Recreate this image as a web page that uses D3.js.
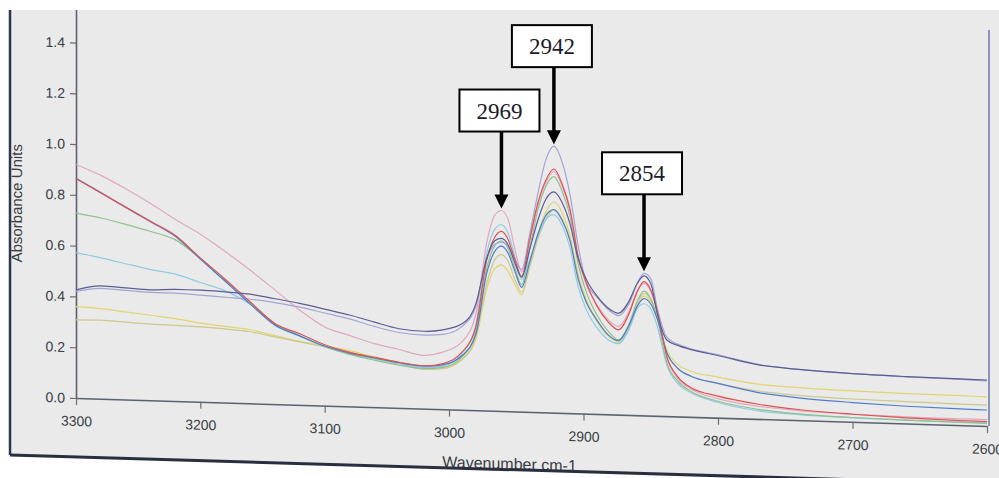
<!DOCTYPE html>
<html>
<head>
<meta charset="utf-8">
<script src="https://cdn.jsdelivr.net/npm/d3@7"></script>
<style>
body { margin: 0; background: #fff; }
svg { display: block; }
</style>
</head>
<body>
<div id="chart-area"></div>
<script>

let width = 999,
height = 478;

// wavenumber grid (cm-1), shared by every spectrum
let wavenumbers = [3300, 3280, 3260, 3240, 3220, 3200, 3180, 3160, 3140, 3120,
	3100, 3080, 3060, 3040, 3020, 3005, 2990, 2980, 2972, 2966,
	2961, 2956, 2951, 2946, 2940, 2934, 2928, 2922, 2916, 2910,
	2904, 2898, 2890, 2882, 2874, 2866, 2860, 2855, 2850, 2845,
	2838, 2830, 2820, 2800, 2770, 2740, 2700, 2660, 2620, 2600];

// absorbance of each spectrum
let specLavender = [0.420, 0.435, 0.430, 0.425, 0.425, 0.420, 0.415, 0.410, 0.400, 0.385,
	0.365, 0.345, 0.318, 0.297, 0.290, 0.295, 0.330, 0.410, 0.595, 0.655,
	0.665, 0.650, 0.600, 0.560, 0.700, 0.860, 0.995, 1.050, 0.990, 0.860,
	0.660, 0.520, 0.460, 0.415, 0.390, 0.440, 0.520, 0.560, 0.540, 0.420,
	0.310, 0.285, 0.268, 0.248, 0.215, 0.200, 0.190, 0.184, 0.180, 0.178];
let specPink = [0.920, 0.880, 0.830, 0.775, 0.715, 0.660, 0.595, 0.525, 0.450, 0.373,
	0.310, 0.280, 0.250, 0.230, 0.210, 0.225, 0.270, 0.380, 0.660, 0.770,
	0.790, 0.755, 0.640, 0.550, 0.680, 0.815, 0.905, 0.950, 0.895, 0.795,
	0.615, 0.510, 0.430, 0.375, 0.347, 0.410, 0.490, 0.520, 0.490, 0.405,
	0.230, 0.150, 0.110, 0.075, 0.050, 0.038, 0.030, 0.026, 0.025, 0.025];
let specRed = [0.864, 0.811, 0.758, 0.705, 0.652, 0.567, 0.486, 0.400, 0.318, 0.280,
	0.240, 0.213, 0.196, 0.180, 0.169, 0.180, 0.229, 0.329, 0.592, 0.684,
	0.708, 0.676, 0.598, 0.533, 0.678, 0.823, 0.915, 0.960, 0.903, 0.803,
	0.619, 0.516, 0.425, 0.366, 0.334, 0.401, 0.487, 0.527, 0.495, 0.410,
	0.234, 0.157, 0.115, 0.085, 0.058, 0.042, 0.030, 0.022, 0.018, 0.017];
let specGreen = [0.728, 0.712, 0.690, 0.665, 0.635, 0.565, 0.483, 0.398, 0.315, 0.272,
	0.232, 0.205, 0.185, 0.168, 0.158, 0.165, 0.210, 0.310, 0.560, 0.650,
	0.670, 0.640, 0.565, 0.500, 0.645, 0.795, 0.890, 0.930, 0.875, 0.775,
	0.590, 0.480, 0.390, 0.330, 0.295, 0.360, 0.450, 0.490, 0.460, 0.380,
	0.210, 0.140, 0.100, 0.065, 0.038, 0.025, 0.017, 0.013, 0.011, 0.010];
let specSlate = [0.426, 0.445, 0.440, 0.435, 0.440, 0.440, 0.436, 0.430, 0.415, 0.400,
	0.380, 0.360, 0.335, 0.312, 0.305, 0.313, 0.340, 0.420, 0.600, 0.670,
	0.680, 0.655, 0.585, 0.530, 0.640, 0.755, 0.840, 0.870, 0.830, 0.745,
	0.610, 0.530, 0.465, 0.420, 0.400, 0.450, 0.520, 0.550, 0.520, 0.400,
	0.300, 0.280, 0.265, 0.245, 0.213, 0.200, 0.190, 0.185, 0.182, 0.181];
let specYellow = [0.360, 0.355, 0.345, 0.335, 0.325, 0.310, 0.300, 0.290, 0.270, 0.250,
	0.235, 0.220, 0.198, 0.180, 0.158, 0.165, 0.200, 0.280, 0.480, 0.560,
	0.576, 0.550, 0.500, 0.460, 0.580, 0.700, 0.790, 0.830, 0.790, 0.700,
	0.550, 0.450, 0.370, 0.315, 0.285, 0.340, 0.430, 0.470, 0.450, 0.380,
	0.260, 0.205, 0.180, 0.160, 0.137, 0.128, 0.122, 0.118, 0.116, 0.115];
let specOlive = [0.308, 0.310, 0.305, 0.300, 0.298, 0.295, 0.290, 0.282, 0.265, 0.248,
	0.232, 0.215, 0.195, 0.175, 0.155, 0.160, 0.200, 0.290, 0.500, 0.595,
	0.616, 0.590, 0.520, 0.470, 0.570, 0.680, 0.760, 0.800, 0.765, 0.680,
	0.540, 0.440, 0.365, 0.310, 0.290, 0.345, 0.440, 0.480, 0.460, 0.390,
	0.250, 0.190, 0.160, 0.135, 0.110, 0.098, 0.090, 0.086, 0.083, 0.082];
let specBlue = [0.866, 0.812, 0.757, 0.703, 0.648, 0.562, 0.478, 0.392, 0.312, 0.272,
	0.235, 0.210, 0.194, 0.178, 0.168, 0.175, 0.215, 0.300, 0.540, 0.628,
	0.650, 0.622, 0.552, 0.490, 0.590, 0.700, 0.775, 0.800, 0.760, 0.680,
	0.530, 0.440, 0.370, 0.315, 0.292, 0.355, 0.430, 0.460, 0.440, 0.380,
	0.250, 0.190, 0.160, 0.135, 0.104, 0.088, 0.076, 0.068, 0.064, 0.063];
let specCyan = [0.573, 0.555, 0.535, 0.515, 0.500, 0.470, 0.440, 0.390, 0.310, 0.270,
	0.232, 0.207, 0.190, 0.173, 0.162, 0.170, 0.225, 0.340, 0.620, 0.715,
	0.734, 0.700, 0.610, 0.520, 0.600, 0.690, 0.760, 0.780, 0.740, 0.650,
	0.500, 0.410, 0.340, 0.295, 0.280, 0.340, 0.420, 0.440, 0.420, 0.350,
	0.200, 0.130, 0.095, 0.060, 0.032, 0.022, 0.016, 0.013, 0.012, 0.012];

// drawing order: light ones first, dark ones on top
let spectra = [specYellow, specOlive, specCyan, specGreen, specPink, specLavender, specBlue, specRed, specSlate];
let spectraColors = ["#e3d46e", "#cdc88c", "#8fcbe2", "#8fc08f", "#e0a7c2", "#a2a4d6", "#4f7dce", "#de5352", "#5d5c93"];

// peak call-outs
let peakLabels = ["2969", "2942", "2854"];
let peakPositions = [2961, 2922, 2855];

let xTicks = [3300, 3200, 3100, 3000, 2900, 2800, 2700, 2600];
let yTicks = [0, 0.2, 0.4, 0.6, 0.8, 1.0, 1.2, 1.4];

// the photo is tilted a little: the x axis drops ~28px over its length
let tilt = 0.0307;
let tiltDeg = Math.atan(tilt) * 180 / Math.PI;
let originX = 76, originY = 398;

let svg = d3.select("#chart-area").append("svg")
	.attr("width", width)
	.attr("height", height);

// photo area (grey screen) with white margins
let photo = [[10, 10], [999, 10], [999, 484], [10, 455]];
svg.append("rect").attr("width", width).attr("height", height).attr("fill", "#fff");
svg.append("polygon")
	.attr("points", photo.map(p => p.join(",")).join(" "))
	.attr("fill", "#e9eae9");

svg.append("clipPath").attr("id", "photo-clip")
	.append("polygon")
	.attr("points", photo.map(p => p.join(",")).join(" "));

let clipped = svg.append("g").attr("clip-path", "url(#photo-clip)");
let g = clipped.append("g")
	.attr("transform", "translate(" + originX + "," + originY + ") skewY(" + tiltDeg + ")");

// scales (x is a little stretched toward the right, as in the photo)
let x = d3.scaleLinear()
	.domain([3300, 3000, 2600])
	.range([0, 373, 911]);
let y = d3.scaleLinear()
	.domain([0, 1.56])
	.range([0, -396]);

// axes
let xAxis = d3.axisBottom(x).tickValues(xTicks).tickSize(7).tickSizeOuter(0).tickPadding(11)
	.tickFormat(d3.format("d"));
let yAxis = d3.axisLeft(y).tickValues(yTicks).tickSize(6).tickSizeOuter(0).tickPadding(5)
	.tickFormat(d3.format(".1f"));

let gx = g.append("g").call(xAxis);
let gy = g.append("g").call(yAxis);
[gx, gy].forEach(a => {
	a.select(".domain").attr("stroke", "#5c6170").attr("stroke-width", 1.6);
	a.selectAll(".tick line").attr("stroke", "#6a6e78").attr("stroke-width", 1.2);
	a.selectAll(".tick text")
		.attr("fill", "#3a3d45")
		.style("font-family", "Liberation Sans, Arial, sans-serif")
		.style("font-size", "14px");
});

// right frame line
g.append("line")
	.attr("x1", x(2600) + 2).attr("x2", x(2600) + 2)
	.attr("y1", 0).attr("y2", y(1.56))
	.attr("stroke", "#8795b8")
	.attr("stroke-width", 2);

// axis titles
g.append("text")
	.attr("transform", "translate(-54," + y(0.76) + ") rotate(-90)")
	.attr("text-anchor", "middle")
	.attr("fill", "#3a3d45")
	.style("font-family", "Liberation Sans, Arial, sans-serif")
	.style("font-size", "15px")
	.text("Absorbance Units");

g.append("text")
	.attr("x", x(2955))
	.attr("y", 58)
	.attr("text-anchor", "middle")
	.attr("fill", "#3a3d45")
	.style("font-family", "Liberation Sans, Arial, sans-serif")
	.style("font-size", "16px")
	.text("Wavenumber cm-1");

// spectra
let line = d3.line()
	.x((d, i) => x(wavenumbers[i]))
	.y(d => y(d))
	.curve(d3.curveMonotoneX);

g.selectAll(".spectrum")
	.data(spectra)
	.enter().append("path")
	.attr("class", "spectrum")
	.attr("d", line)
	.attr("fill", "none")
	.attr("stroke", (d, i) => spectraColors[i])
	.attr("stroke-width", 1.2)
	.attr("stroke-linejoin", "round");

// dark page edges of the photo
svg.append("line")
	.attr("x1", 10).attr("y1", 10).attr("x2", 10).attr("y2", 455)
	.attr("stroke", "#2c3650").attr("stroke-width", 2.5);
svg.append("line")
	.attr("x1", 10).attr("y1", 455).attr("x2", 999).attr("y2", 484)
	.attr("stroke", "#2a2f40").attr("stroke-width", 3);

// call-outs: box + arrow pointing at the top of each peak
let notes = svg.append("g");
peakPositions.forEach((p, k) => {
	let idx = wavenumbers.indexOf(p);
	let top = d3.max(spectra, s => s[idx]);
	let ax = originX + x(p);
	let tip = originY + y(top) + tilt * x(p) - 2;
	let boxBottom = tip - 77;

	notes.append("line")
		.attr("x1", ax).attr("x2", ax)
		.attr("y1", boxBottom).attr("y2", tip - 12)
		.attr("stroke", "#000").attr("stroke-width", 3.5);
	notes.append("path")
		.attr("d", "M" + (ax - 7) + "," + (tip - 14) + "L" + (ax + 7) + "," + (tip - 14) + "L" + ax + "," + tip + "Z")
		.attr("fill", "#000");
	notes.append("rect")
		.attr("x", ax - 42).attr("y", boxBottom - 42)
		.attr("width", 80).attr("height", 42)
		.attr("fill", "#fff")
		.attr("stroke", "#000").attr("stroke-width", 2);
	notes.append("text")
		.attr("x", ax - 2).attr("y", boxBottom - 13)
		.attr("text-anchor", "middle")
		.attr("fill", "#1b1b2a")
		.style("font-family", "Liberation Serif, Times New Roman, serif")
		.style("font-size", "23px")
		.text(peakLabels[k]);
});

</script>
</body>
</html>
